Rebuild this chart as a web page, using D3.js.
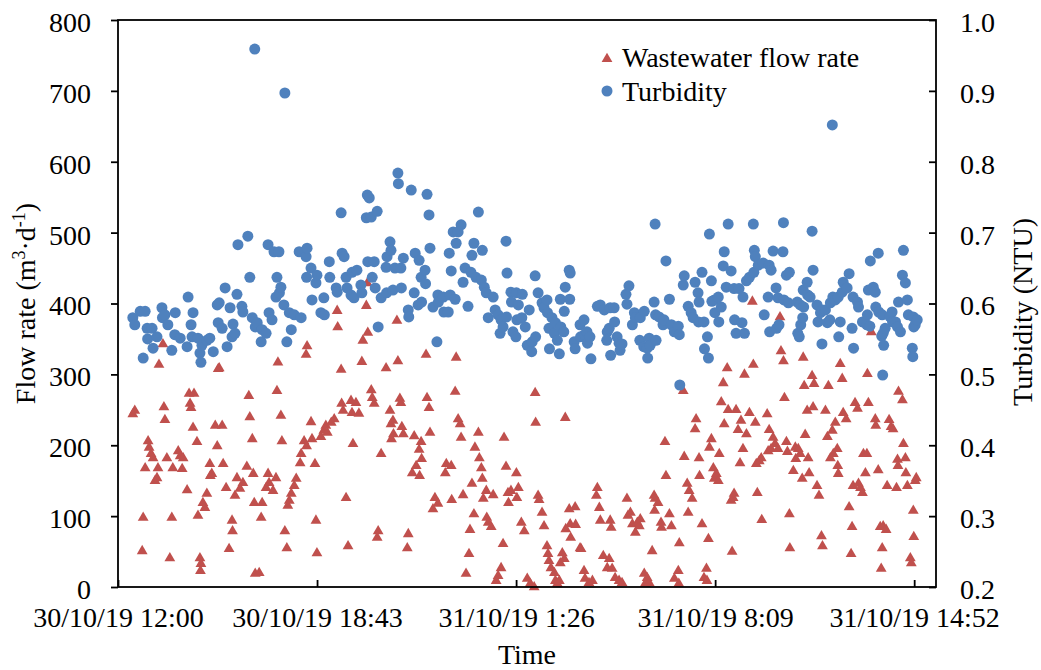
<!DOCTYPE html>
<html><head><meta charset="utf-8">
<script src="https://cdn.jsdelivr.net/npm/d3@7/dist/d3.min.js"></script>
<style>
html,body{margin:0;padding:0;background:#fff;}
svg{display:block;font-family:"Liberation Serif","Times New Roman",serif;}
</style></head><body>
<svg id="chart" width="1041" height="670"></svg>
<script>
// ---- data ----
const xTickLabels = ["30/10/19 12:00","30/10/19 18:43","31/10/19 1:26","31/10/19 8:09","31/10/19 14:52"];
const flowTicks = [0,100,200,300,400,500,600,700,800];
const turbTicks = [0.2,0.3,0.4,0.5,0.6,0.7,0.8,0.9,1.0];
const seriesNames = ["Wastewater flow rate","Turbidity"];

// minutes after 30/10/19 12:00
const flowMinutes = [
30,34,49,51,55,61,63,67,71,75,
79,81,83,91,93,95,99,105,109,111,
122,126,130,132,140,144,146,148,152,154,
160,162,166,167,168,172,176,180,186,187,
190,197,201,203,205,211,213,219,225,231,
232,237,241,247,253,261,265,267,272,274,
276,278,286,290,292,300,304,306,314,320,
322,324,330,332,338,342,344,347,351,357,
361,369,371,377,381,382,383,391,393,399,
401,403,411,417,421,424,432,438,444,445,
452,453,456,462,466,472,474,476,482,488,
494,496,503,505,506,513,515,519,525,527,
533,543,551,553,554,557,558,565,567,571,
573,575,578,586,588,596,600,604,610,611,
614,615,624,626,630,632,638,642,648,663,
665,675,676,683,685,689,693,695,699,705,
711,713,717,721,723,730,732,736,738,740,
746,747,750,756,760,766,770,776,780,782,
786,790,791,796,807,808,811,817,823,829,
835,843,845,846,851,853,859,863,869,871,
873,877,884,886,890,894,896,900,904,906,
907,914,916,917,926,927,936,938,944,946,
954,961,969,971,975,977,983,991,995,997,
999,1001,1007,1015,1021,1031,1033,1038,1042,1048,
1052,1056,1058,1066,1068,1072,1076,1082,1086,1087,
1088,1094,1100,1101,1108,1110,1117,1121,1127,1135,
1136,1137,1145,1147,1153,1155,1157,1163,1169,1171,
1177,1178,1183,1187,1192,1193,1196,1198,1202,1206,
1208,1212,1216,1218,1222,1226,1228,1234,1236,1242,
1244,1246,1248,1252,1256,1260,1262,1266,1269,1273,
1279,1285,1287,1291,1293,1295,1299,1303,1304,1315,
1317,1319,1323,1327,1331,1337,1341,1343,1348,1350,
1354,1356,1360,1361,1368,1372,1373,1378,1382,1386,
1388,1390,1392,1396,1398,1400,1406,1408,1410,1416,
1420,1425,1427,1433,1437,1439,1443,1447,1449,1453,
1457,1458,1459,1463,1467,1469,1475,1481,1485,1487,
1489,1493,1498,1500,1504,1508,1510,1514,1517,1518,
1520,1526,1534,1535,1540,1544,1546,1548,1550,1556,
1558,1562,1566,1570,1577,1579,1580,1581,1589,1591,
1595,1596,1599,1605,1607,1611,1612,1615,1617];
const flowValues = [
245,250,52,99,169,207,198,189,183,151,
155,169,315,344,255,237,183,42,99,169,
193,186,168,183,138,274,260,254,226,274,
206,102,42,24,34,120,113,133,175,158,
161,229,200,309,310,229,175,141,55,95,
80,130,155,140,148,171,271,241,210,161,
120,20,21,99,120,141,161,148,137,155,
278,318,243,207,80,56,116,123,133,144,
154,176,189,207,329,200,341,234,210,175,
95,49,213,222,229,219,233,238,391,368,
308,260,250,127,59,264,247,203,261,246,
319,349,398,430,360,279,268,260,71,80,
189,310,250,231,210,236,217,377,320,267,
261,227,217,56,76,162,214,172,195,158,
206,182,329,268,254,219,111,127,119,162,
175,172,124,277,325,238,231,212,131,20,
48,82,147,104,198,219,183,169,154,126,
137,99,92,86,131,10,17,28,62,212,
171,134,120,137,162,127,141,92,80,13,
6,1,275,233,130,124,106,87,59,48,
38,28,21,10,6,10,35,49,41,240,
83,111,90,71,114,89,56,55,24,13,
7,10,130,141,113,95,45,28,41,95,
85,27,14,10,7,126,102,106,90,78,
92,87,97,20,6,14,7,52,130,109,
126,120,92,85,206,158,104,87,13,24,
6,63,278,185,147,106,137,126,224,238,
183,158,90,14,27,10,69,198,210,169,
154,161,151,189,262,289,231,310,251,123,
51,127,133,251,223,176,236,196,301,217,
247,404,315,233,175,134,179,183,96,245,
193,223,196,212,203,196,382,334,320,268,
206,192,104,56,165,198,182,196,189,154,
325,285,216,250,183,162,299,255,288,144,
130,73,59,250,213,285,183,222,189,233,
196,172,161,316,295,247,238,114,48,86,
144,261,253,147,141,134,189,162,189,302,
261,361,238,229,166,86,27,56,87,82,
144,237,227,224,141,181,172,277,265,203,
183,162,144,42,35,109,72,151,155];

const turbMinutes = [
30,34,45,51,55,59,60,69,71,79,
89,90,95,101,109,116,115,126,140,142,
148,150,152,162,166,168,170,180,186,193,
201,203,205,211,217,221,227,231,233,237,
241,243,251,253,263,267,272,278,277,282,
290,292,300,304,306,312,316,320,322,326,
327,330,336,338,342,347,351,357,367,371,
381,382,383,391,393,401,403,411,417,418,
428,429,442,444,452,454,458,462,464,472,
474,478,484,492,494,503,505,506,509,513,
515,519,521,525,527,533,543,544,545,551,
553,557,561,567,568,573,574,578,588,589,
594,600,602,608,610,614,615,622,623,626,
630,632,638,646,648,649,659,660,669,671,
673,675,679,683,685,689,695,699,703,709,
715,717,721,725,730,736,738,742,746,750,
760,764,770,774,776,780,786,787,788,796,
797,800,807,808,806,811,819,818,825,829,
833,839,838,845,846,851,859,863,869,870,
873,874,879,884,886,890,894,896,897,904,
903,906,914,916,915,924,926,936,937,944,
945,950,951,956,958,971,977,985,991,990,
995,997,998,1005,1006,1011,1015,1017,1021,1029,
1031,1035,1042,1046,1048,1058,1057,1066,1065,1072,
1073,1076,1078,1086,1088,1089,1090,1096,1104,1106,
1110,1117,1121,1127,1135,1137,1138,1145,1147,1155,
1161,1165,1169,1175,1176,1177,1183,1187,1188,1194,
1196,1198,1202,1203,1208,1209,1216,1217,1222,1226,
1228,1232,1236,1242,1248,1249,1252,1258,1264,1266,
1269,1273,1279,1287,1288,1289,1291,1297,1307,1309,
1317,1319,1320,1323,1327,1333,1334,1337,1339,1348,
1347,1349,1354,1358,1360,1376,1377,1380,1382,1383,
1388,1389,1387,1396,1397,1402,1406,1408,1416,1418,
1423,1427,1426,1433,1437,1443,1442,1447,1448,1453,
1459,1460,1463,1467,1469,1477,1481,1487,1489,1490,
1498,1500,1508,1518,1517,1520,1524,1523,1530,1534,
1535,1540,1541,1548,1547,1550,1551,1549,1554,1564,
1568,1569,1575,1579,1581,1585,1589,1591,1595,1599,
1601,1609,1611,1612,1610,1615,1619];
const turbValues = [
.580,.570,.589,.523,.589,.565,.550,.565,.537,.553,
.594,.580,.584,.570,.534,.587,.556,.551,.539,.609,
.570,.553,.587,.551,.530,.517,.541,.548,.551,.532,
.598,.573,.601,.565,.622,.539,.594,.553,.571,.558,
.613,.683,.596,.588,.695,.637,.580,.567,.959,.573,
.546,.563,.558,.683,.587,.577,.673,.609,.637,.673,
.615,.623,.598,.897,.546,.587,.563,.584,.673,.580,
.666,.637,.678,.650,.605,.629,.640,.587,.608,.584,
.659,.637,.622,.616,.728,.671,.666,.637,.622,.612,
.644,.608,.647,.626,.615,.721,.753,.659,.749,.722,
.637,.659,.622,.730,.567,.608,.651,.615,.666,.687,
.675,.619,.650,.784,.769,.650,.622,.664,.591,.581,
.760,.615,.671,.598,.661,.637,.602,.647,.628,.754,
.725,.678,.595,.546,.612,.602,.609,.588,.588,.671,
.612,.646,.701,.606,.685,.701,.711,.630,.650,.596,
.644,.668,.685,.637,.729,.633,.675,.623,.615,.580,
.609,.591,.584,.558,.577,.567,.688,.581,.643,.616,
.602,.560,.615,.577,.553,.598,.613,.580,.567,.541,
.591,.546,.532,.639,.553,.615,.601,.594,.605,.587,
.565,.536,.580,.558,.573,.548,.529,.606,.567,.589,
.560,.623,.647,.643,.606,.546,.536,.570,.553,.577,
.556,.560,.544,.553,.522,.596,.598,.591,.560,.548,
.565,.594,.527,.594,.574,.553,.544,.534,.543,.613,
.599,.625,.570,.587,.580,.580,.548,.589,.539,.537,
.523,.551,.541,.602,.712,.584,.548,.581,.570,.577,
.660,.606,.570,.560,.568,.556,.485,.626,.639,.596,
.587,.580,.630,.615,.574,.602,.644,.574,.536,.553,
.523,.698,.632,.603,.605,.587,.609,.574,.595,.653,
.673,.623,.712,.646,.621,.577,.558,.621,.573,.609,
.558,.632,.637,.712,.644,.675,.666,.654,.657,.584,
.609,.654,.560,.647,.674,.622,.565,.608,.570,.714,
.673,.605,.640,.601,.644,.602,.558,.553,.598,.570,
.619,.595,.580,.630,.612,.609,.702,.647,.598,.574,
.587,.591,.543,.591,.573,.601,.577,.852,.609,.605,
.609,.553,.574,.616,.630,.622,.642,.565,.609,.537,
.602,.595,.574,.584,.570,.619,.660,.568,.623,.616,
.595,.671,.588,.584,.554,.558,.541,.499,.565,.581,
.588,.574,.574,.567,.602,.560,.640,.675,.629,.605,
.584,.537,.581,.567,.525,.570,.577];

// ---- chart ----
const W = 1041, H = 670;
const plot = {left:118, right:936, top:20, bottom:587};
const red = "#C0504D", blue = "#4F81BD";
const start = new Date(2019, 9, 30, 12, 0);
const toDate = m => new Date(start.getTime() + m * 60000);
const majorUnit = 403.2; // minutes (0.28 day)

const x = d3.scaleTime().domain([start, toDate(1657)]).range([plot.left, plot.right]);
const yL = d3.scaleLinear().domain([0, 800]).range([plot.bottom, plot.top]);
const yR = d3.scaleLinear().domain([0.2, 1.0]).range([plot.bottom, plot.top]);

const svg = d3.select("#chart");
svg.append("rect").attr("width", W).attr("height", H).attr("fill", "#fff");

const FS = 28;
function styleAxis(g){
  g.select(".domain").remove();
  g.selectAll(".tick line").attr("stroke", "#000").attr("stroke-width", 1.8);
  g.selectAll(".tick text").attr("fill", "#000").style("font-size", FS + "px")
    .style("font-family", '"Liberation Serif","Times New Roman",serif');
}

// data: flow (triangles) first, turbidity (circles) on top
const flowData = d3.zip(flowMinutes, flowValues);
const turbData = d3.zip(turbMinutes, turbValues);
const triPath = "M0,-5.3L5.4,4L-5.4,4Z";

svg.append("g").selectAll("path").data(flowData).join("path")
  .attr("d", triPath)
  .attr("transform", d => `translate(${x(toDate(d[0]))},${yL(d[1])})`)
  .attr("fill", red);

svg.append("g").selectAll("circle").data(turbData).join("circle")
  .attr("cx", d => x(toDate(d[0])))
  .attr("cy", d => yR(d[1]))
  .attr("r", 5.5)
  .attr("fill", blue);

// frame
svg.append("rect").attr("x", plot.left).attr("y", plot.top)
  .attr("width", plot.right - plot.left).attr("height", plot.bottom - plot.top)
  .attr("fill", "none").attr("stroke", "#000").attr("stroke-width", 1.8);

// axes
const xTicks = xTickLabels.map((_, i) => toDate(i * majorUnit));
svg.append("g").attr("transform", `translate(0,${plot.bottom})`)
  .call(d3.axisBottom(x).tickValues(xTicks).tickFormat((d, i) => xTickLabels[i])
    .tickSizeInner(-7).tickSizeOuter(0).tickPadding(20))
  .call(styleAxis);

svg.append("g").attr("transform", `translate(${plot.left},0)`)
  .call(d3.axisLeft(yL).tickValues(flowTicks).tickSizeInner(7).tickSizeOuter(0).tickPadding(20))
  .call(styleAxis)
  .call(g => g.selectAll(".tick text").attr("dy", "0.41em"));

svg.append("g").attr("transform", `translate(${plot.right},0)`)
  .call(d3.axisRight(yR).tickValues(turbTicks).tickFormat(d3.format(".1f"))
    .tickSizeInner(-7).tickSizeOuter(0).tickPadding(24))
  .call(styleAxis)
  .call(g => g.selectAll(".tick text").attr("dy", "0.41em"));

// axis titles
svg.append("text").attr("x", (plot.left + plot.right) / 2).attr("y", 664)
  .attr("text-anchor", "middle").style("font-size", FS + "px").text("Time");

const lt = svg.append("text").attr("transform", "translate(35,303.5) rotate(-90)")
  .attr("text-anchor", "middle").style("font-size", FS + "px");
lt.append("tspan").text("Flow rate (m");
lt.append("tspan").attr("dy", -10).style("font-size", "18px").text("3");
lt.append("tspan").attr("dy", 10).text("·d");
lt.append("tspan").attr("dy", -10).style("font-size", "18px").text("-1");
lt.append("tspan").attr("dy", 10).text(")");

svg.append("text").attr("transform", "translate(1032,312) rotate(-90)")
  .attr("text-anchor", "middle").style("font-size", FS + "px").text("Turbidity (NTU)");

// legend
const lg = svg.append("g");
lg.append("path").attr("d", triPath).attr("transform", "translate(607,58)").attr("fill", red);
lg.append("text").attr("x", 622).attr("y", 66.5).style("font-size", FS + "px").text(seriesNames[0]);
lg.append("circle").attr("cx", 607).attr("cy", 91).attr("r", 5.5).attr("fill", blue);
lg.append("text").attr("x", 622).attr("y", 101).style("font-size", FS + "px").text(seriesNames[1]);
</script>
</body></html>
